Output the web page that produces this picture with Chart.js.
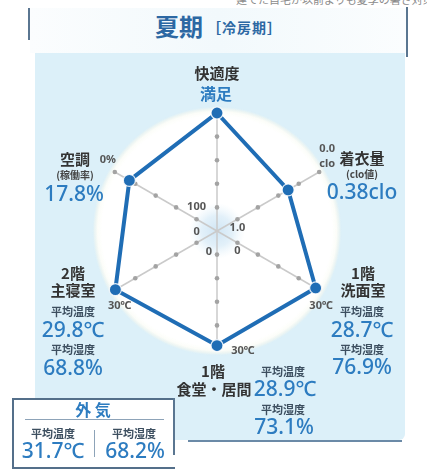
<!DOCTYPE html>
<html lang="ja">
<head>
<meta charset="utf-8">
<script src="https://cdn.jsdelivr.net/npm/chart.js@4.4.1/dist/chart.umd.min.js"></script>
<style>
  html, body { margin: 0; padding: 0; background: #fff; }
  body {
    width: 427px; height: 469px; position: relative; overflow: hidden;
    font-family: "Noto Sans", "Noto Sans CJK JP", sans-serif; color: #333;
  }
  .note { position: absolute; top: -9px; left: 236px; white-space: nowrap; font-size: 11px; color: #8c8c8c; }
  .titlebar { position: absolute; left: 30px; top: 8px; width: 376px; height: 45px; background: linear-gradient(90deg, #fbfdfe, #f2f9fc 50%, #fbfdfe); }
  .vbar { position: absolute; width: 2px; background: #5a7691; }
  .title { position: absolute; left: 0; top: 8px; width: 437px; text-align: center; color: #2c68a3; white-space: nowrap; }
  .title b { font-family: "Noto Sans CJK JP"; font-size: 24px; font-weight: 700; }
  .title span { font-family: "Noto Sans CJK JP"; font-size: 14px; font-weight: 700; margin-left: 4px; vertical-align: 3px; letter-spacing: 1px; }
  .panel { position: absolute; left: 35px; top: 53px; width: 370px; height: 387px; background: #dcf0f9; border-radius: 0 0 6px 0; }
  .rule { position: absolute; left: 188px; top: 440px; width: 214px; height: 2px; background: #6b8aa7; }
  #radar { position: absolute; left: 67px; top: 81px; }
  .t { position: absolute; transform: translate(-50%, -50%); white-space: nowrap; text-align: center; line-height: 1; }
  .name { font-family: "Noto Sans CJK JP"; font-size: 15px; font-weight: 700; color: #333; }
  .sub { font-family: "Noto Sans CJK JP"; font-size: 10px; font-weight: 700; color: #444; }
  .cap { font-family: "Noto Sans CJK JP"; font-size: 11px; font-weight: 700; color: #3d4f60; }
  .val { font-size: 21px; font-weight: 500; color: #2d7cc0; }
  .word { font-family: "Noto Sans CJK JP"; font-size: 16px; font-weight: 700; color: #2d7cc0; }
  .outdoor { position: absolute; left: 12px; top: 398px; width: 161px; height: 67px; background: #fff;
    border-left: 2px solid #546f8a; border-top: 2px solid #546f8a; border-bottom: 2px solid #546f8a; }
</style>
</head>
<body>
<div class="note">建てた自宅が以前よりも夏季の暑さ対策に有効であったか</div>
<div class="titlebar"></div>
<div class="vbar" style="left:28px; top:8px; height:32px;"></div>
<div class="vbar" style="left:406px; top:7px; height:50px;"></div>
<div class="title"><b>夏期</b><span>［冷房期］</span></div>
<div class="panel"></div>
<div class="rule"></div>
<canvas id="radar" width="300" height="300"></canvas>
<div class="outdoor"></div>
<div class="vbar" style="left:173px; top:398px; height:57px;"></div>
<div id="labels"></div>

<script>
// axes run clockwise from the top
const axisNames = ['快適度', '着衣量', '1階 洗面室', '1階 食堂・居間', '2階 主寝室', '空調'];
// value at the first ring and at the outer ring of each axis
const innerTicks = [1, 1.0, 0, 0, 0, 100];
const outerTicks = [5, 0.0, 30, 30, 30, 0];
const innerTickLabels = ['', '1.0', '0', '0', '0', '100'];
const outerTickLabels = ['', '0.0\nclo', '30℃', '30℃', '30℃', '0%'];

// comfort is a 1-5 rating (5 = 満足), clothing in clo, rooms in ℃, A/C in %
const values = [5, 0.38, 28.7, 28.9, 29.8, 17.8];
const comfortWord = '満足';
const humidity = [null, null, 76.9, 73.1, 68.8, null];

const outdoorTemp = 31.7;
const outdoorHumidity = 68.2;

// where each tick label sits relative to its dot
const innerOffsets = [[0, 0], [0, 9], [0, 8], [-8, -3], [0, -11], [0, -12]];
const outerOffsets = [[0, 0], [8, -16], [2, 16], [26, 2], [5, 16], [-7, -12]];

const rings = values.map((v, i) => 1 + 4 * (v - innerTicks[i]) / (outerTicks[i] - innerTicks[i]));

const radarDecor = {
  id: 'radarDecor',
  beforeDraw(chart) {
    const s = chart.scales.r, ctx = chart.ctx;
    const cx = s.xCenter, cy = s.yCenter, R = s.drawingArea;
    ctx.save();
    // white disc with a soft rim
    let g = ctx.createRadialGradient(cx, cy, R - 3, cx, cy, R + 7);
    g.addColorStop(0, '#ffffff');
    g.addColorStop(0.45, 'rgba(255,254,248,0.9)');
    g.addColorStop(0.75, 'rgba(250,249,238,0.45)');
    g.addColorStop(1, 'rgba(220,240,249,0)');
    ctx.fillStyle = '#fff';
    ctx.beginPath(); ctx.arc(cx, cy, R - 3, 0, Math.PI * 2); ctx.fill();
    ctx.fillStyle = g;
    ctx.beginPath(); ctx.arc(cx, cy, R + 7, 0, Math.PI * 2); ctx.fill();
    // pale blue glow in the middle
    g = ctx.createRadialGradient(cx, cy, 0, cx, cy, 28);
    g.addColorStop(0, 'rgba(205,228,244,0.95)');
    g.addColorStop(0.55, 'rgba(214,234,247,0.7)');
    g.addColorStop(1, 'rgba(230,243,250,0)');
    ctx.fillStyle = g;
    ctx.beginPath(); ctx.arc(cx, cy, 28, 0, Math.PI * 2); ctx.fill();
    ctx.restore();
  },
  beforeDatasetsDraw(chart) {
    const s = chart.scales.r, ctx = chart.ctx;
    ctx.save();
    ctx.fillStyle = '#a3a3a3';
    axisNames.forEach((_, i) => {
      for (let k = 1; k <= 5; k++) {
        const p = s.getPointPositionForValue(i, k);
        ctx.beginPath(); ctx.arc(p.x, p.y, 2.3, 0, Math.PI * 2); ctx.fill();
      }
    });
    // tick values at the first and outer ring
    ctx.font = 'bold 11px "Noto Sans", "Noto Sans CJK JP"';
    ctx.fillStyle = '#555';
    ctx.textAlign = 'center';
    ctx.textBaseline = 'middle';
    axisNames.forEach((_, i) => {
      let p = s.getPointPositionForValue(i, 1);
      if (innerTickLabels[i]) ctx.fillText(innerTickLabels[i], p.x + innerOffsets[i][0], p.y + innerOffsets[i][1]);
      p = s.getPointPositionForValue(i, 5);
      const lines = outerTickLabels[i] ? outerTickLabels[i].split('\n') : [];
      lines.forEach((ln, j) => {
        ctx.fillText(ln, p.x + outerOffsets[i][0], p.y + outerOffsets[i][1] + (j - (lines.length - 1) / 2) * 15);
      });
    });
    ctx.restore();
  }
};

new Chart(document.getElementById('radar'), {
  type: 'radar',
  data: {
    labels: axisNames,
    datasets: [{
      data: rings,
      borderColor: '#1f6db5',
      borderWidth: 4,
      fill: false,
      tension: 0,
      pointRadius: 6,
      pointBackgroundColor: '#1f6db5',
      pointBorderColor: 'rgba(255,255,255,0.85)',
      pointBorderWidth: 1.2
    }]
  },
  options: {
    responsive: false,
    animation: false,
    layout: { padding: 32 },
    plugins: { legend: { display: false }, tooltip: { enabled: false } },
    scales: {
      r: {
        min: 0, max: 5,
        ticks: { display: false, stepSize: 1 },
        grid: { display: false },
        angleLines: { display: true, color: '#cacaca', lineWidth: 1.5 },
        pointLabels: { display: false }
      }
    }
  },
  plugins: [radarDecor]
});

// labels around the chart
const box = document.getElementById('labels');
function put(text, x, y, cls) {
  const d = document.createElement('div');
  d.className = 't ' + cls;
  d.style.left = x + 'px';
  d.style.top = y + 'px';
  d.textContent = text;
  box.appendChild(d);
}
const fmt = v => v.toFixed(1);

put('快適度', 217, 72, 'name');
put(comfortWord, 216, 93, 'word');

put('着衣量', 362, 157, 'name');
put('(clo値)', 362, 174, 'sub');
put(values[1].toFixed(2) + 'clo', 362, 191, 'val');

put('1階', 363, 272, 'name');
put('洗面室', 363, 289, 'name');
put('平均温度', 362, 311, 'cap');
put(fmt(values[2]) + '℃', 362, 329, 'val');
put('平均湿度', 362, 349, 'cap');
put(fmt(humidity[2]) + '%', 362, 366, 'val');

put('1階', 213, 370, 'name');
put('食堂・居間', 214, 388, 'name');
put('平均温度', 283, 371, 'cap');
put(fmt(values[3]) + '℃', 285, 388, 'val');
put('平均湿度', 283, 409, 'cap');
put(fmt(humidity[3]) + '%', 284, 426, 'val');

put('2階', 73, 272, 'name');
put('主寝室', 73, 289, 'name');
put('平均温度', 73, 311, 'cap');
put(fmt(values[4]) + '℃', 73, 329, 'val');
put('平均湿度', 73, 349, 'cap');
put(fmt(humidity[4]) + '%', 73, 367, 'val');

put('空調', 75, 158, 'name');
put('(稼働率)', 75, 175, 'sub');
put(fmt(values[5]) + '%', 74, 193, 'val');

// outdoor air box
put('外 気', 93, 409, 'word');
const sep = document.createElement('div');
sep.style.cssText = 'position:absolute;left:25px;top:419px;width:139px;height:1px;background:#8da3b8;';
box.appendChild(sep);
const div = document.createElement('div');
div.style.cssText = 'position:absolute;left:94px;top:430px;width:1px;height:27px;background:#8da3b8;';
box.appendChild(div);
put('平均温度', 53, 433, 'cap');
put(fmt(outdoorTemp) + '℃', 53, 450, 'val');
put('平均湿度', 134, 433, 'cap');
put(fmt(outdoorHumidity) + '%', 135, 450, 'val');
</script>
</body>
</html>
